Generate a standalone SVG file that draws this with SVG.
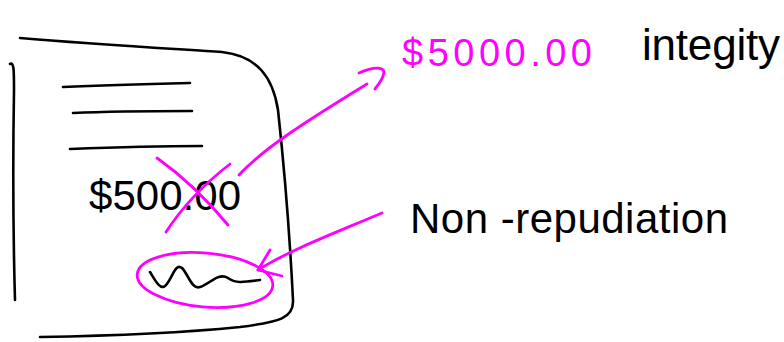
<svg xmlns="http://www.w3.org/2000/svg" width="784" height="342" viewBox="0 0 784 342">
<style>
.ink{fill:none;stroke:#000;stroke-width:2.6;stroke-linecap:round;stroke-linejoin:round}
.mg{fill:none;stroke:#f0f;stroke-width:2.8;stroke-linecap:round;stroke-linejoin:round}
.tb{font-family:"Liberation Sans",Arial,sans-serif;fill:#000}
.tm{font-family:"Liberation Sans",Arial,sans-serif;fill:#f0f}
</style>
<rect width="784" height="342" fill="#fff"/>
<g id="document">
<path class="ink" d="M20,38 C90,44 160,48 222,52 C258,56 273,78 278,110 C284,165 290,240 293,300 C294,318 280,322 240,327 C180,333 100,336 40,337"/>
<path class="ink" d="M10,64 C14,62 14,70 14,90 C13,150 13,230 15,300"/>
<path class="ink" d="M63,87 C110,85 150,84 190,83"/>
<path class="ink" d="M73,113 C115,111 155,111 192,111"/>
<path class="ink" d="M70,149 C120,147 160,146 202,146"/>
<text class="tb" x="89" y="210" font-size="42" textLength="152">$500.00</text>
<path class="mg" d="M157,158 Q195,185 228,225"/>
<path class="mg" d="M230,164 Q190,195 166,232"/>
<path class="ink" d="M150,272 C155,280 160,290 165,286 C172,280 175,262 182,268 C188,274 192,290 200,287 C210,284 218,272 228,278 C236,284 245,282 260,280"/>
<ellipse class="mg" cx="205" cy="280" rx="68" ry="27" transform="rotate(5 205 280)"/>
</g>
<g id="label-5000">
<text class="tm" x="402" y="66" font-size="38" textLength="190">$5000.00</text>
</g>
<g id="label-integrity">
<text class="tb" x="642" y="60" font-size="44" textLength="138">integity</text>
</g>
<g id="label-nonrep">
<text class="tb" x="410" y="233" font-size="42" textLength="318">Non -repudiation</text>
</g>
<g id="connectors">
<path class="mg" d="M239,175 C262,150 300,125 367,84"/>
<path class="mg" d="M359,73 C372,67 388,65 383,76 C381,82 377,86 375,89"/>
<path class="mg" d="M382,213 C330,235 290,250 258,270"/>
<path class="mg" d="M270,250 L258,270 L282,276"/>
</g>
</svg>
